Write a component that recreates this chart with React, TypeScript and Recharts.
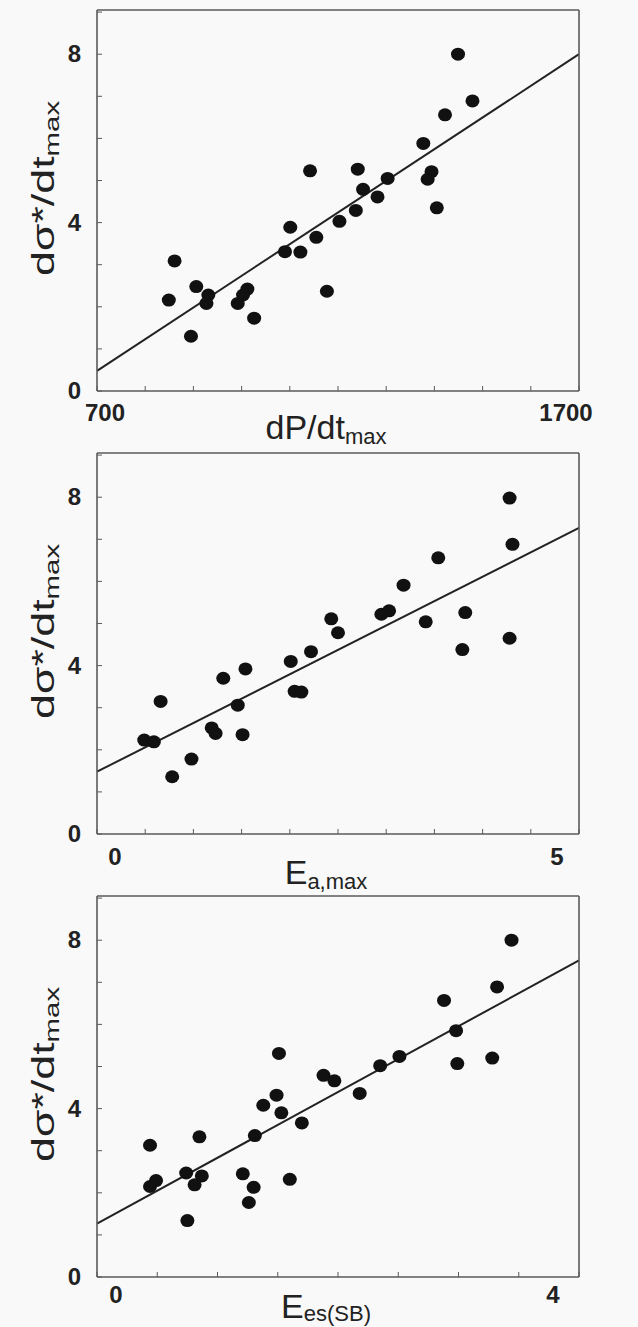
import React from 'react';
import { ScatterChart, Scatter, XAxis, YAxis, ReferenceLine } from 'recharts';

// panel 1: dP/dt max vs dσ*/dt max
const dpdtMax = [1449, 1479, 1422, 1377, 1142, 1241, 1303, 1394, 1386, 1252, 1282, 1237, 1405, 1203, 1101, 1155, 1090, 1122, 861, 1177, 906, 849, 931, 927, 1012, 1003, 992, 1026, 895];
const dSigmaA = [8.0, 6.89, 6.56, 5.88, 5.23, 5.27, 5.05, 5.21, 5.03, 4.79, 4.61, 4.29, 4.35, 4.03, 3.89, 3.65, 3.31, 3.3, 3.09, 2.37, 2.48, 2.16, 2.28, 2.08, 2.42, 2.28, 2.08, 1.73, 1.3];

// panel 2: Ea,max
const eaMax = [4.28, 4.31, 3.54, 3.18, 2.95, 3.03, 3.82, 3.41, 2.43, 2.5, 4.28, 3.79, 2.22, 2.01, 1.54, 1.31, 2.05, 2.12, 0.66, 1.46, 1.19, 1.23, 1.51, 0.49, 0.59, 0.98, 0.78];
const dSigmaB = [7.98, 6.88, 6.56, 5.91, 5.22, 5.3, 5.26, 5.04, 5.11, 4.78, 4.65, 4.38, 4.33, 4.1, 3.92, 3.7, 3.39, 3.37, 3.15, 3.06, 2.52, 2.39, 2.36, 2.23, 2.19, 1.78, 1.36];

// panel 3: Ees(SB)
const eesSB = [3.44, 3.32, 2.88, 2.98, 1.51, 2.51, 3.28, 2.99, 2.35, 1.88, 1.97, 2.18, 1.49, 1.38, 1.53, 1.7, 1.31, 0.85, 0.44, 0.74, 0.87, 1.21, 1.6, 0.49, 0.44, 0.81, 1.3, 1.26, 0.75];
const dSigmaC = [8.0, 6.89, 6.57, 5.85, 5.31, 5.24, 5.2, 5.07, 5.02, 4.79, 4.66, 4.36, 4.32, 4.08, 3.9, 3.66, 3.36, 3.33, 3.13, 2.47, 2.4, 2.45, 2.32, 2.29, 2.15, 2.19, 2.13, 1.77, 1.34];

// regression line end points
const fitA = [{ x: 700, y: 0.48 }, { x: 1700, y: 8.0 }];
const fitB = [{ x: 0, y: 1.48 }, { x: 5, y: 7.27 }];
const fitC = [{ x: 0, y: 1.27 }, { x: 4, y: 7.52 }];

const xTicksA = [700, 800, 900, 1000, 1100, 1200, 1300, 1400, 1500, 1600, 1700];
const xTicksB = [0, 0.5, 1, 1.5, 2, 2.5, 3, 3.5, 4, 4.5, 5];
const xTicksC = [0, 0.5, 1, 1.5, 2, 2.5, 3, 3.5, 4];
const yTicks = [0, 1, 2, 3, 4, 5, 6, 7, 8, 9];
const yLabels = [0, 4, 8];

const zip = (xs: number[], ys: number[]) => xs.map((x, i) => ({ x, y: ys[i] }));

const panels = [
  {
    data: zip(dpdtMax, dSigmaA), fit: fitA, xDomain: [700, 1700], xTicks: xTicksA,
    xLabels: [700, 1700], title: 'dP/dt', titleSub: 'max',
    firstDx: 8, lastDx: -13, labelDy: 30, titleDy: 48, subDy: 5,
  },
  {
    data: zip(eaMax, dSigmaB), fit: fitB, xDomain: [0, 5], xTicks: xTicksB,
    xLabels: [0, 5], title: 'E', titleSub: 'a,max',
    firstDx: 18, lastDx: -22, labelDy: 31, titleDy: 50, subDy: 5,
  },
  {
    data: zip(eesSB, dSigmaC), fit: fitC, xDomain: [0, 4], xTicks: xTicksC,
    xLabels: [0, 4], title: 'E', titleSub: 'es(SB)',
    firstDx: 19, lastDx: -26, labelDy: 26, titleDy: 41, subDy: 3,
  },
];

const AXIS = '#5a5a5a';
const TICK_LEN = 5;
const FONT = '"Liberation Sans", Arial, sans-serif';

const Dot = (p: any) => <ellipse cx={p.cx} cy={p.cy} rx={7} ry={6.5} fill="#111" />;

function Panel({ panel }: { panel: (typeof panels)[number] }) {
  const [lo, hi] = panel.xDomain;

  const bottomTick = (p: any) => {
    const v = p.payload.value;
    const show = panel.xLabels.includes(v);
    const dx = v === lo ? panel.firstDx : v === hi ? panel.lastDx : 0;
    return (
      <g>
        <line x1={p.x} x2={p.x} y1={p.y} y2={p.y - TICK_LEN} stroke={AXIS} />
        {show && (
          <text x={p.x + dx} y={p.y + panel.labelDy} textAnchor="middle" fontSize={24} fontWeight="bold" fill="#222" fontFamily={FONT}>
            {v}
          </text>
        )}
      </g>
    );
  };
  const topTick = (p: any) => <line x1={p.x} x2={p.x} y1={p.y} y2={p.y + TICK_LEN} stroke={AXIS} />;
  const leftTick = (p: any) => {
    const v = p.payload.value;
    return (
      <g>
        <line x1={p.x} x2={p.x + TICK_LEN} y1={p.y} y2={p.y} stroke={AXIS} />
        {yLabels.includes(v) && (
          <text x={p.x - 16} y={p.y + 8} textAnchor="end" fontSize={24} fontWeight="bold" fill="#222" fontFamily={FONT}>
            {v}
          </text>
        )}
      </g>
    );
  };
  const rightTick = (p: any) => <line x1={p.x} x2={p.x - TICK_LEN} y1={p.y} y2={p.y} stroke={AXIS} />;

  const xTitle = (p: any) => {
    const vb = p.viewBox;
    return (
      <text x={vb.x + vb.width / 2 - 12} y={vb.y + panel.titleDy} textAnchor="middle" fontSize={34} fill="#222" fontFamily={FONT}>
        {panel.title}
        <tspan fontSize={22} dy={panel.subDy}>{panel.titleSub}</tspan>
      </text>
    );
  };
  const yTitle = (p: any) => {
    const vb = p.viewBox;
    const cx = 43;
    const cy = vb.y + vb.height / 2 - 12;
    return (
      <text transform={`translate(${cx},${cy}) rotate(-90) scale(1.4,1)`} x={0} y={11} textAnchor="middle" fontSize={32} fill="#222" fontFamily={FONT}>
        dσ*/dt
        <tspan fontSize={21} dy={5}>max</tspan>
      </text>
    );
  };

  const axisLine = { stroke: AXIS, strokeWidth: 1.6 };

  return (
    <ScatterChart width={638} height={460} margin={{ top: 0, right: 0, bottom: 0, left: 0 }}>
      <XAxis
        dataKey="x" type="number" domain={panel.xDomain} ticks={panel.xTicks} interval={0}
        height={69} axisLine={axisLine} tickLine={false} tickSize={0} tickMargin={0}
        tick={bottomTick} label={{ content: xTitle }}
      />
      <XAxis
        xAxisId="top" orientation="top" type="number" domain={panel.xDomain} ticks={panel.xTicks} interval={0}
        height={10} axisLine={axisLine} tickLine={false} tickSize={0} tickMargin={0} tick={topTick}
      />
      <YAxis
        dataKey="y" type="number" domain={[0, 9.05]} ticks={yTicks} interval={0}
        width={97} axisLine={axisLine} tickLine={false} tickSize={0} tickMargin={0}
        tick={leftTick} label={{ content: yTitle }}
      />
      <YAxis
        yAxisId="right" orientation="right" type="number" domain={[0, 9.05]} ticks={yTicks} interval={0}
        width={59} axisLine={axisLine} tickLine={false} tickSize={0} tickMargin={0} tick={rightTick}
      />
      <ReferenceLine segment={panel.fit} stroke="#222" strokeWidth={2} ifOverflow="visible" />
      <Scatter data={panel.data} shape={Dot} isAnimationActive={false} />
    </ScatterChart>
  );
}

export default function App() {
  return (
    <div
      style={{
        position: 'absolute', left: 0, top: 0, width: 638, height: 1327,
        overflow: 'hidden', background: '#f9f9f9',
      }}
    >
      {panels.map((panel, i) => (
        <div key={i} style={{ position: 'absolute', left: 0, top: i * 443 }}>
          <Panel panel={panel} />
        </div>
      ))}
    </div>
  );
}
